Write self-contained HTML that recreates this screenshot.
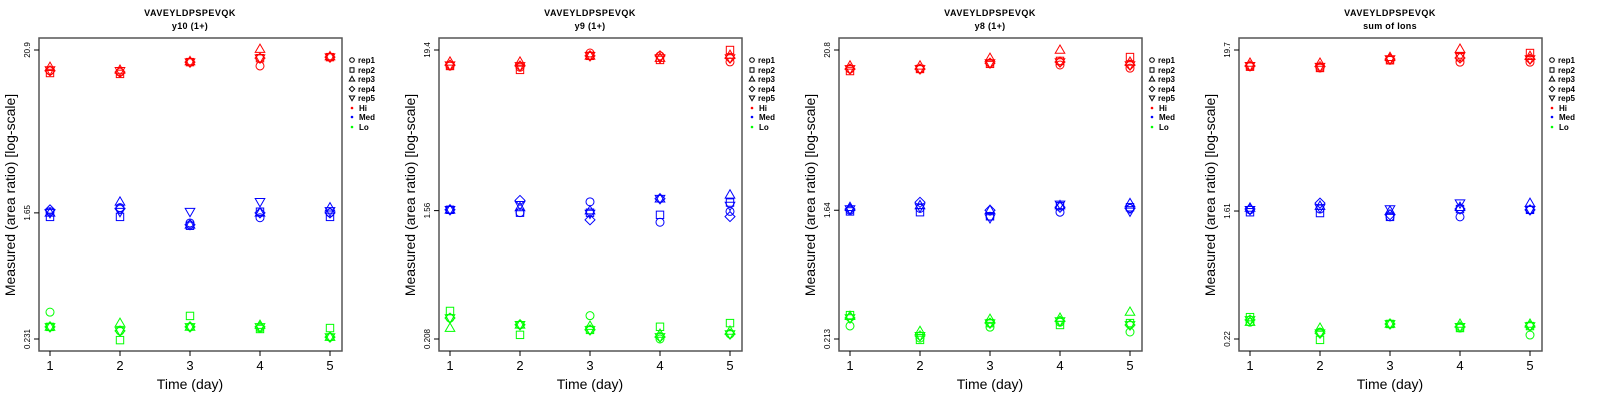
<!DOCTYPE html>
<html><head><meta charset="utf-8"><style>
html,body{margin:0;padding:0;background:#fff;}
svg{display:block;font-family:"Liberation Sans",sans-serif;}
</style></head><body>
<svg id="chart" width="1600" height="400" xmlns="http://www.w3.org/2000/svg"></svg>
<script>
const days = [1,2,3,4,5];
const reps = ["rep1","rep2","rep3","rep4","rep5"];
const levels = ["Hi","Med","Lo"];
const panelTitles = ["y10 (1+)","y9 (1+)","y8 (1+)","sum of Ions"];
const peptide = "VAVEYLDPSPEVQK";
const yTicksTop = [20.9,19.4,20.8,19.7];
const yTicksMid = [1.65,1.56,1.64,1.61];
const yTicksBot = [0.231,0.208,0.213,0.22];
// values[panel][level][day][rep]
const p1Hi = [[15.1,14.6,16.0,15.1,15.3],[14.8,14.4,15.3,14.8,15.1],[17.3,17.3,17.5,17.3,17.3],[16.3,18.4,21.2,18.4,18.4],[18.7,18.7,18.9,18.7,18.7]];
const p1Med = [[1.68,1.55,1.65,1.73,1.65],[1.79,1.55,1.96,1.76,1.68],[1.41,1.35,1.37,1.37,1.68],[1.53,1.68,1.65,1.65,1.96],[1.65,1.55,1.79,1.65,1.70]];
const p1Lo = [[0.351,0.279,0.279,0.279,0.279],[0.262,0.227,0.296,0.262,0.262],[0.279,0.331,0.279,0.279,0.279],[0.274,0.270,0.287,0.279,0.279],[0.238,0.274,0.238,0.238,0.238]];
const p2Hi = [[15.1,15.1,16.1,15.3,15.3],[14.8,14.2,16.1,15.1,15.1],[18.5,17.7,17.7,17.7,17.7],[17.7,16.6,17.1,17.7,17.1],[16.1,19.4,17.9,17.1,17.1]];
const p2Med = [[1.58,1.58,1.58,1.58,1.58],[1.51,1.51,1.64,1.83,1.71],[1.79,1.51,1.56,1.35,1.49],[1.30,1.46,1.88,1.88,1.88],[1.54,1.77,2.00,1.42,1.69]];
const p2Lo = [[0.289,0.323,0.247,0.289,0.289],[0.260,0.222,0.260,0.260,0.260],[0.300,0.240,0.255,0.240,0.240],[0.208,0.252,0.225,0.215,0.215],[0.225,0.267,0.236,0.225,0.225]];
const p3Hi = [[15.4,14.9,16.2,15.4,15.4],[15.4,15.4,16.2,15.4,15.4],[16.9,16.7,18.3,16.9,16.9],[16.4,17.5,20.8,17.2,17.2],[15.6,18.6,17.2,16.4,16.4]];
const p3Med = [[1.64,1.61,1.72,1.67,1.67],[1.69,1.59,1.77,1.86,1.72],[1.49,1.49,1.64,1.64,1.45],[1.59,1.75,1.77,1.72,1.80],[1.69,1.72,1.83,1.69,1.61]];
const p3Lo = [[0.262,0.311,0.306,0.297,0.297],[0.216,0.210,0.241,0.224,0.224],[0.257,0.274,0.292,0.274,0.274],[0.278,0.266,0.297,0.283,0.283],[0.238,0.274,0.327,0.266,0.266]];
const p4Hi = [[15.2,15.2,16.1,15.4,15.4],[14.9,14.9,16.1,15.2,15.2],[16.8,16.8,17.6,17.1,17.1],[16.3,17.6,20.0,17.4,17.9],[16.3,18.8,17.9,17.1,17.1]];
const p4Med = [[1.64,1.58,1.69,1.66,1.64],[1.66,1.56,1.74,1.82,1.69],[1.47,1.47,1.61,1.52,1.66],[1.47,1.66,1.71,1.66,1.82],[1.64,1.64,1.82,1.64,1.64]];
const p4Lo = [[0.286,0.309,0.286,0.296,0.296],[0.245,0.217,0.261,0.241,0.241],[0.278,0.278,0.278,0.278,0.278],[0.261,0.261,0.278,0.266,0.266],[0.234,0.269,0.278,0.269,0.269]];
const panelData = [[p1Hi,p1Med,p1Lo],[p2Hi,p2Med,p2Lo],[p3Hi,p3Med,p3Lo],[p4Hi,p4Med,p4Lo]];
const levelColors = ["#ff0000","#0000ff","#00ff00"];

const NS = "http://www.w3.org/2000/svg";
const svg = document.getElementById("chart");
function mk(tag, attrs, parent, text){
  const e = document.createElementNS(NS, tag);
  for (const k in attrs) e.setAttribute(k, attrs[k]);
  if (text !== undefined) e.textContent = text;
  parent.appendChild(e);
  return e;
}
function marker(g, shape, cx, cy, color){
  let e;
  if (shape === 0) e = mk("circle",{cx:cx,cy:cy,r:4,fill:"none",stroke:color,"stroke-width":1},g);
  else if (shape === 1) e = mk("rect",{x:cx-3.7,y:cy-3.7,width:7.4,height:7.4,fill:"none",stroke:color,"stroke-width":1},g);
  else if (shape === 2) e = mk("polygon",{points:`${cx},${cy-5} ${cx+4.8},${cy+3.3} ${cx-4.8},${cy+3.3}`,fill:"none",stroke:color,"stroke-width":1},g);
  else if (shape === 3) e = mk("polygon",{points:`${cx},${cy-5} ${cx+5},${cy} ${cx},${cy+5} ${cx-5},${cy}`,fill:"none",stroke:color,"stroke-width":1},g);
  else e = mk("polygon",{points:`${cx},${cy+5} ${cx+4.8},${cy-3.3} ${cx-4.8},${cy-3.3}`,fill:"none",stroke:color,"stroke-width":1},g);
  return e;
}

for (let p = 0; p < 4; p++){
  const ox = p*400;
  const L = ox+39, R = ox+342, T = 38, B = 351;
  const yTop = 50, yBot = 339;
  const lt = Math.log(yTicksTop[p]), lb = Math.log(yTicksBot[p]);
  const yScale = v => yTop + (lt - Math.log(v))/(lt - lb)*(yBot - yTop);
  const xScale = d => ox + 50 + (d-1)*70;
  const g = mk("g",{},svg);
  
  

  const t1 = mk("text",{x:ox+190,y:16,"text-anchor":"middle","font-size":9,"font-weight":"bold","letter-spacing":"0.5"},g,peptide);
  
  
  const t2 = mk("text",{x:ox+190,y:29,"text-anchor":"middle","font-size":9,"font-weight":"bold","letter-spacing":"0.3"},g,panelTitles[p]);
  
  

  const box = mk("rect",{x:L,y:T,width:R-L,height:B-T,fill:"none",stroke:"#555","stroke-width":1.5},g);
  
  

  // y ticks
  [yTicksTop[p], yTicksMid[p], yTicksBot[p]].forEach(v => {
    const y = yScale(v);
    mk("line",{x1:L-5,x2:L,y1:y,y2:y,stroke:"#000","stroke-width":1},g);
    const tl = mk("text",{x:ox+30,y:y,"text-anchor":"middle","font-size":8,transform:`rotate(-90 ${ox+30} ${y})`},g,String(v));
    
    
  });
  // x ticks
  days.forEach(d => {
    const x = xScale(d);
    mk("line",{x1:x,x2:x,y1:B,y2:B+5,stroke:"#000","stroke-width":1},g);
    const tl = mk("text",{x:x,y:370,"text-anchor":"middle","font-size":13},g,String(d));
    
    
  });
  const xt = mk("text",{x:ox+190,y:389,"text-anchor":"middle","font-size":14},g,"Time (day)");
  
  
  const yt = mk("text",{x:ox+15,y:195,"text-anchor":"middle","font-size":14,transform:`rotate(-90 ${ox+15} 195)`},g,"Measured (area ratio) [log-scale]");
  
  

  // points
  for (let l = 0; l < 3; l++){
    const series = panelData[p][l];
    for (let d = 0; d < days.length; d++){
      for (let r = 0; r < reps.length; r++){
        const m = marker(g, r, xScale(days[d]), yScale(series[d][r]), levelColors[l]);
        
        
      }
    }
  }

  // legend
  const lg = mk("g",{},g);
  
  
  const rowY = [60,70,79,89,98,108,117,127];
  reps.forEach((rp,i) => {
    const sx = ox+352, sy = rowY[i];
    const e = document.createElementNS(NS,"g"); lg.appendChild(e);
    
    
    if (i===0) mk("circle",{cx:sx,cy:sy,r:2.3,fill:"none",stroke:"#000","stroke-width":1},e);
    else if (i===1) mk("rect",{x:sx-2,y:sy-2.2,width:4,height:4.4,fill:"none",stroke:"#000","stroke-width":1},e);
    else if (i===2) mk("polygon",{points:`${sx},${sy-2.7} ${sx+2.7},${sy+2} ${sx-2.7},${sy+2}`,fill:"none",stroke:"#000","stroke-width":1},e);
    else if (i===3) mk("polygon",{points:`${sx},${sy-2.7} ${sx+2.7},${sy} ${sx},${sy+2.7} ${sx-2.7},${sy}`,fill:"none",stroke:"#000","stroke-width":1},e);
    else mk("polygon",{points:`${sx},${sy+2.7} ${sx+2.7},${sy-2} ${sx-2.7},${sy-2}`,fill:"none",stroke:"#000","stroke-width":1},e);
    mk("text",{x:sx+6,y:sy+3,"font-size":8,"font-weight":"bold"},e,rp);
  });
  levels.forEach((lv,i) => {
    const sx = ox+352, sy = rowY[5+i];
    const e = document.createElementNS(NS,"g"); lg.appendChild(e);
    
    
    mk("circle",{cx:sx,cy:sy,r:1.3,fill:levelColors[i]},e);
    mk("text",{x:sx+7,y:sy+3,"font-size":8,"font-weight":"bold"},e,lv);
  });
}
</script>
</body></html>
